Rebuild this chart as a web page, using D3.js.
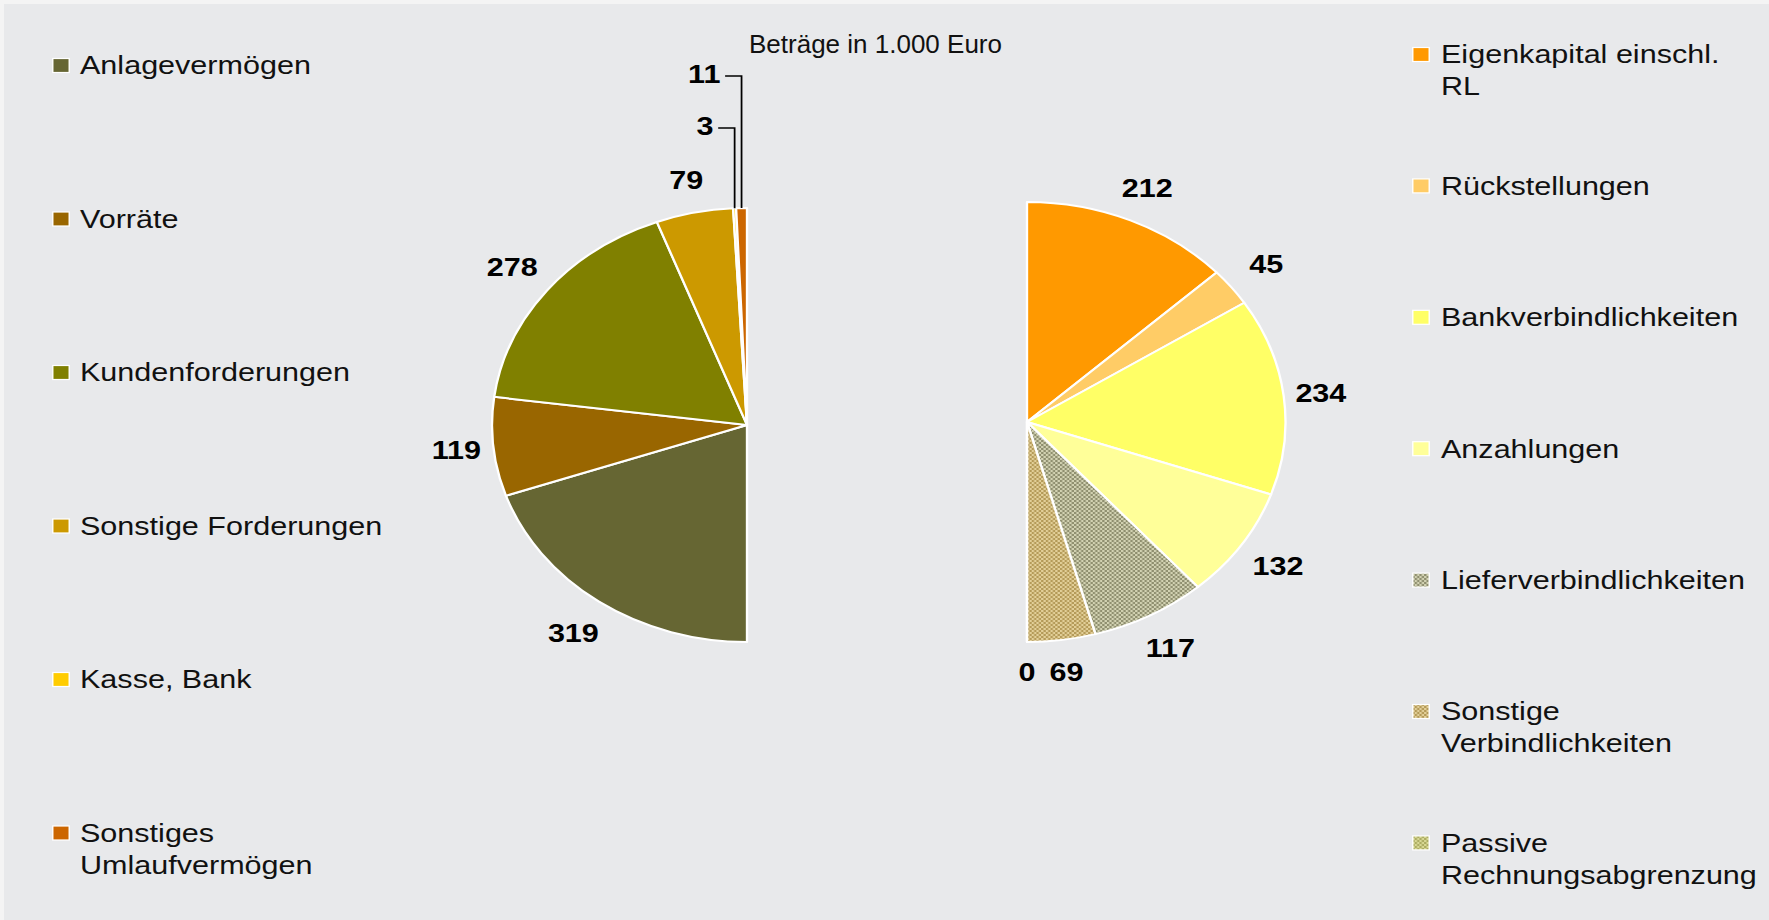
<!DOCTYPE html>
<html>
<head>
<meta charset="utf-8">
<script src="https://cdn.jsdelivr.net/npm/d3@7"></script>
<style>
  html, body { margin: 0; padding: 0; background: #e8e9eb; }
  svg { display: block; font-family: "Liberation Sans", Arial, sans-serif; }
</style>
</head>
<body>
<div id="chart"></div>
<script>
// Aktiva (left half pie)
const aktivaNames = ['Anlagevermögen', 'Vorräte', 'Kundenforderungen', 'Sonstige Forderungen', 'Kasse, Bank', 'Sonstiges\nUmlaufvermögen'];
const aktivaValues = [319, 119, 278, 79, 3, 11];
const aktivaColors = ['#666633', '#996600', '#808000', '#cc9900', '#ffcc00', '#cc6600'];

// Passiva (right half pie)
const passivaNames = ['Eigenkapital einschl.\nRL', 'Rückstellungen', 'Bankverbindlichkeiten', 'Anzahlungen', 'Lieferverbindlichkeiten', 'Sonstige\nVerbindlichkeiten', 'Passive\nRechnungsabgrenzung'];
const passivaValues = [212, 45, 234, 132, 117, 69, 0];
const passivaColors = ['#ff9900', '#ffcc66', '#ffff66', '#ffff99', 'url(#patLiefer)', 'url(#patSonst)', 'url(#patPassiv)'];

const title = 'Beträge in 1.000 Euro';

const W = 1769, H = 920;
const SX = 1.175;   // the whole picture is stretched horizontally

const svg = d3.select('#chart').append('svg').attr('width', W).attr('height', H);

svg.append('rect').attr('width', W).attr('height', H).attr('fill', '#f4f4f4');
svg.append('rect').attr('x', 4).attr('y', 4).attr('width', W - 4).attr('height', H - 4).attr('fill', '#e8e9eb');

// checker patterns for the hatched slices
const defs = svg.append('defs');
function checker(id, dark, light) {
    const p = defs.append('pattern').attr('id', id).attr('patternUnits', 'userSpaceOnUse')
        .attr('width', 4).attr('height', 4);
    p.append('rect').attr('width', 4).attr('height', 4).attr('fill', dark);
    p.append('rect').attr('width', 2).attr('height', 2).attr('fill', light);
    p.append('rect').attr('x', 2).attr('y', 2).attr('width', 2).attr('height', 2).attr('fill', light);
}
checker('patLiefer', '#8f8f6f', '#d2d2b2');
checker('patSonst', '#b49a58', '#e2cf98');
checker('patPassiv', '#acac62', '#d8d894');

const g = svg.append('g').attr('transform', `scale(${SX},1)`);

function drawPie(values, colors, cx, cy, r, a0, a1) {
    const pie = d3.pie().sort(null).value(d => d).startAngle(a0).endAngle(a1);
    const arc = d3.arc().innerRadius(0).outerRadius(r);
    const arcs = pie(values);
    const pg = g.append('g').attr('transform', `translate(${cx},${cy})`);

    pg.selectAll('path').data(arcs).join('path')
        .attr('d', arc)
        .attr('fill', (d, i) => colors[i])
        .attr('stroke', '#fff')
        .attr('stroke-width', 2)
        .attr('stroke-linejoin', 'round');

    let stack = 0;
    arcs.forEach(d => {
        const mid = (d.startAngle + d.endAngle) / 2;
        if (d.value > 0 && d.value < 20) {
            // small slices: labels stacked above with leader lines
            const ax = r * Math.sin(mid), ay = -r * Math.cos(mid);
            const ly = -r - 80 - 52 * stack;
            stack++;
            pg.append('polyline')
                .attr('points', `${ax - 14},${ly} ${ax},${ly} ${ax},${ay}`)
                .attr('fill', 'none').attr('stroke', '#000').attr('stroke-width', 1.5);
            pg.append('text')
                .attr('x', ax - 18).attr('y', ly + 7)
                .attr('text-anchor', 'end')
                .attr('font-size', 26).attr('font-weight', 'bold')
                .text(d.value);
        } else {
            const k = 30 + 8 * Math.abs(Math.sin(2 * mid));
            const R = r + k;
            pg.append('text')
                .attr('x', R * Math.sin(mid))
                .attr('y', -R * Math.cos(mid) + 9.3)
                .attr('text-anchor', 'middle')
                .attr('font-size', 26).attr('font-weight', 'bold')
                .text(d.value);
        }
    });
}

drawPie(aktivaValues, aktivaColors, 747 / SX, 425, 217, Math.PI, 2 * Math.PI);
drawPie(passivaValues, passivaColors, 1027 / SX, 422, 220, 0, Math.PI);

function drawLegend(names, colors, boxX, textX, y0, step) {
    names.forEach((name, i) => {
        const cy = y0 + step * i;
        g.append('rect')
            .attr('x', boxX - 7).attr('y', cy - 7)
            .attr('width', 14).attr('height', 14)
            .attr('fill', colors[i]).attr('stroke', '#fff').attr('stroke-width', 1.2);
        const t = g.append('text').attr('x', textX).attr('y', cy + 9)
            .attr('font-size', 26).attr('fill', '#111');
        name.split('\n').forEach((line, j) => {
            t.append('tspan').attr('x', textX).attr('dy', j === 0 ? 0 : 32).text(line);
        });
    });
}

drawLegend(aktivaNames, aktivaColors, 61 / SX, 80 / SX, 65.5, 153.5);
drawLegend(passivaNames, passivaColors, 1421 / SX, 1441 / SX, 54.5, 131.4);

svg.append('text')
    .attr('x', 749).attr('y', 53)
    .attr('font-size', 26).attr('fill', '#111')
    .text(title);
</script>
</body>
</html>
